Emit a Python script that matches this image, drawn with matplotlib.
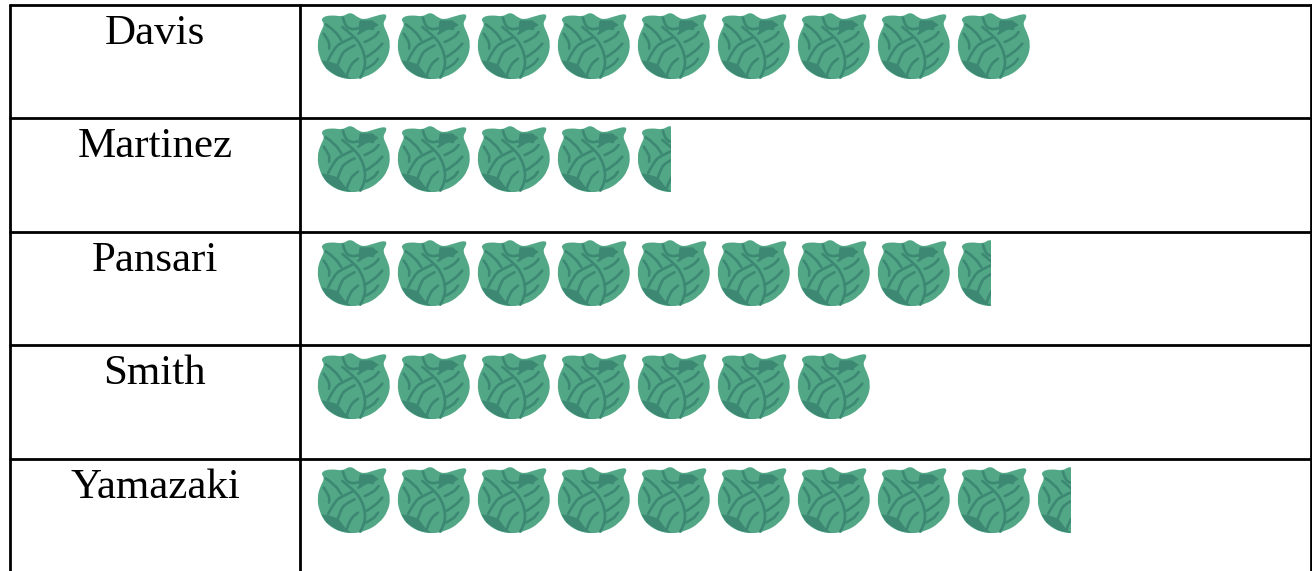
import matplotlib
matplotlib.use('Agg')
import matplotlib.pyplot as plt
from matplotlib.patches import Polygon, Rectangle, PathPatch
from matplotlib.path import Path

# data
names = ['Davis', 'Martinez', 'Pansari', 'Smith', 'Yamazaki']
values = [9, 4.5, 8.5, 7, 9.5]

# icon shape, drawn in the pixels of a 3x crop
outline = [(122, 37), (145, 55), (165, 60), (190, 52), (225, 42), (229, 50), (216, 70), (230, 98),
           (240, 130), (233, 170), (207, 205), (168, 228), (125, 236), (85, 228), (50, 205),
           (31, 170), (25, 130), (34, 97), (48, 72), (35, 55), (62, 46), (100, 52)]
shade_bottom = [(36, 180), (62, 185), (85, 192), (108, 222), (125, 236), (85, 228), (50, 205)]
shade_top = [(150, 60), (188, 60), (207, 74), (190, 86), (172, 82), (150, 100), (146, 84)]
veins = [
    [(98, 80), (130, 105), (155, 135), (167, 175), (165, 205), (152, 232)],
    [(48, 72), (75, 90), (95, 120)],
    [(100, 52), (104, 72), (122, 88), (146, 84)],
    [(146, 100), (170, 82), (190, 86)],
    [(165, 125), (190, 115), (207, 95)],
    [(170, 170), (195, 155), (218, 130)],
    [(168, 205), (190, 195), (205, 175)],
    [(55, 180), (75, 140), (100, 125), (128, 112)],
    [(85, 192), (95, 160), (115, 145), (135, 135)],
    [(42, 100), (60, 125), (58, 145)],
    [(110, 228), (120, 195), (145, 175)],
]
light = '#52A886'
dark = '#3C8873'

fig = plt.figure(figsize=(13.12, 5.71), dpi=100)
ax = fig.add_axes([0, 0, 1, 1])
ax.set_xlim(0, 1312)
ax.set_ylim(571, 0)
ax.axis('off')


def smooth_path(p, closed=False):
    # quadratic curves through the midpoints, rounds the corners
    mid = lambda a, b: ((a[0] + b[0]) / 2, (a[1] + b[1]) / 2)
    if closed:
        verts = [mid(p[-1], p[0])]
        codes = [Path.MOVETO]
        for i in range(len(p)):
            verts += [p[i], mid(p[i], p[(i + 1) % len(p)])]
            codes += [Path.CURVE3, Path.CURVE3]
        return Path(verts, codes)
    verts = [p[0]]
    codes = [Path.MOVETO]
    for i in range(1, len(p) - 1):
        verts += [p[i], mid(p[i], p[i + 1])]
        codes += [Path.CURVE3, Path.CURVE3]
    verts.append(p[-1])
    codes.append(Path.LINETO)
    return Path(verts, codes)


def draw_icon(left, top, clip_w=None):
    def to_px(pts):
        return [(left + (x - 25) / 3, top + (y - 35) / 3) for x, y in pts]

    clip = None
    if clip_w is not None:
        clip = Rectangle((left, top - 2), clip_w, 72, transform=ax.transData)
    shapes = [
        PathPatch(smooth_path(to_px(outline), closed=True), fc=light, ec=light, lw=1.2),
        Polygon(to_px(shade_bottom), closed=True, fc=dark, ec='none'),
        Polygon(to_px(shade_top), closed=True, fc=dark, ec='none'),
    ]
    for pts in veins:
        shapes.append(PathPatch(smooth_path(to_px(pts)), fc='none', ec=dark, lw=1.9, capstyle='round'))
    for s in shapes:
        ax.add_patch(s)
        if clip is not None:
            s.set_clip_path(clip)


# table grid
row_tops = [5, 118, 232, 345, 459]
for y in row_tops:
    ax.plot([9, 1312], [y, y], color='black', lw=2.0, solid_capstyle='butt')
for x in [10, 300, 1311]:
    ax.plot([x, x], [4, 571], color='black', lw=2.0, solid_capstyle='butt')

for name, val, y in zip(names, values, row_tops):
    ax.text(155, y + 39, name, ha='center', va='baseline', fontsize=31,
            family='Liberation Serif', color='black')
    whole = int(val)
    for i in range(whole):
        draw_icon(318 + 80 * i, y + 7)
    if val > whole:
        draw_icon(318 + 80 * whole, y + 7, clip_w=(val - whole) * 65)

fig.savefig('out.png', dpi=100)
